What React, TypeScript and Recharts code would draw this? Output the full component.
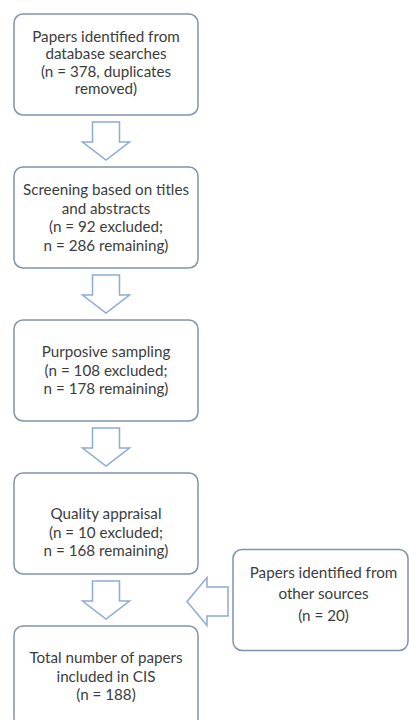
import React from 'react';
import { ScatterChart, Scatter, XAxis, YAxis } from 'recharts';

// flow stages, top to bottom
const stageTitles = [
  ['Papers identified from', 'database searches'],
  ['Screening based on titles', 'and abstracts'],
  ['Purposive sampling'],
  ['Quality appraisal'],
  ['Total number of papers', 'included in CIS'],
];
const stageCounts = [
  ['(n = 378, duplicates', 'removed)'],
  ['(n = 92 excluded;', 'n = 286 remaining)'],
  ['(n = 108 excluded;', 'n = 178 remaining)'],
  ['(n = 10 excluded;', 'n = 168 remaining)'],
  ['(n = 188)'],
];

// extra source that joins the flow before the last stage
const sideTitle = ['Papers identified from', 'other sources'];
const sideCount = ['(n = 20)'];
const sideJoinsBefore = 4;

const W = 409;
const H = 720;
const FONT = 'Lato, "Open Sans", sans-serif';
const FS = 15.2;
const TEXT = '#3c3c3c';
const BORDER = '#8193ad';
const ARROW = '#8eaad6';

const mainData = stageTitles.map((t, i) => ({ col: 0, step: i, lines: [...t, ...stageCounts[i]] }));
const arrowData = stageTitles.slice(1).map((_, i) => ({ col: 0, step: i + 0.5 }));
const sideData = [{ col: 1, step: sideJoinsBefore - 0.5, lines: [...sideTitle, ...sideCount] }];

const lineGap = (i: number) => (i === 0 ? 17.5 : 18.5);
const textShift = (i: number) => (i === 0 ? -2 : i === 3 ? 9 : 0);

const Lines = ({ x, y, lines, gap }: { x: number; y: number; lines: string[]; gap: number }) => (
  <text x={x} textAnchor="middle" fontFamily={FONT} fontSize={FS} fill={TEXT}>
    {lines.map((l, k) => (
      <tspan key={k} x={x} y={y + (k - (lines.length - 1) / 2) * gap} dy="0.35em">
        {l}
      </tspan>
    ))}
  </text>
);

const StageBox = (props: any) => {
  const { cx, cy, payload } = props;
  const w = 184;
  const h = 101;
  return (
    <g>
      <rect x={cx - w / 2} y={cy - h / 2} width={w} height={h} rx={9} fill="#fff" stroke={BORDER} strokeWidth={1.5} />
      <Lines x={cx} y={cy + textShift(payload.step)} lines={payload.lines} gap={lineGap(payload.step)} />
    </g>
  );
};

const DownArrow = (props: any) => {
  const { cx, cy } = props;
  const top = cy - 19;
  const neck = cy + 1;
  const tip = cy + 19;
  const s = 13.5;
  const hw = 23.5;
  const d = `M${cx - s},${top} L${cx + s},${top} L${cx + s},${neck} L${cx + hw},${neck} L${cx},${tip} L${cx - hw},${neck} L${cx - s},${neck} Z`;
  return <path d={d} fill="#fff" stroke={ARROW} strokeWidth={1.5} />;
};

const SideBox = (props: any) => {
  const { cx, cy, payload } = props;
  const w = 175;
  const h = 101;
  const left = cx - w / 2;
  const ay = cy + 1.5;
  const tail = left - 5;
  const neck = left - 26;
  const tip = left - 46;
  const d = `M${tail},${ay - 14.5} L${tail},${ay + 14.5} L${neck},${ay + 14.5} L${neck},${ay + 24} L${tip},${ay} L${neck},${ay - 24} L${neck},${ay - 14.5} Z`;
  return (
    <g>
      <path d={d} fill="#fff" stroke={ARROW} strokeWidth={1.5} />
      <rect x={left} y={cy - h / 2} width={w} height={h} rx={9} fill="#fff" stroke={BORDER} strokeWidth={1.5} />
      <Lines x={cx + 3} y={cy - 6} lines={payload.lines} gap={21.5} />
    </g>
  );
};

export default function App() {
  return (
    <div style={{ position: 'absolute', left: 0, top: 0, width: W, height: H, background: '#fff' }}>
      <ScatterChart width={W} height={H} margin={{ top: 64.5, right: 88.5, bottom: 43.5, left: 106 }}>
        <XAxis type="number" dataKey="col" domain={[0, 1]} hide />
        <YAxis type="number" dataKey="step" domain={[0, 4]} reversed hide />
        <Scatter data={arrowData} shape={DownArrow} isAnimationActive={false} />
        <Scatter data={mainData} shape={StageBox} isAnimationActive={false} />
        <Scatter data={sideData} shape={SideBox} isAnimationActive={false} />
      </ScatterChart>
    </div>
  );
}
